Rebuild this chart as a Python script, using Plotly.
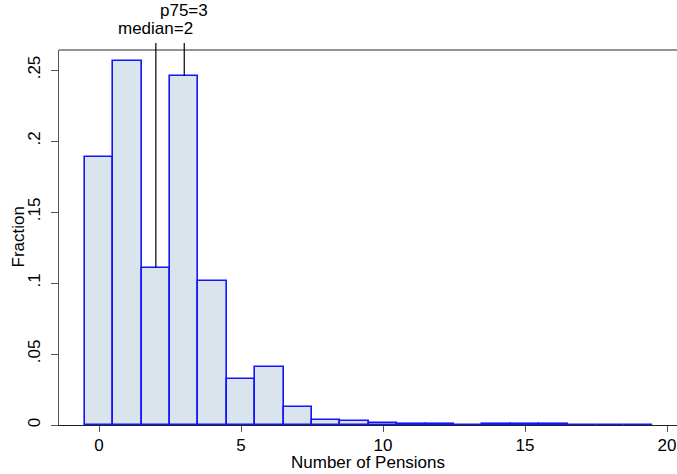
import plotly.graph_objects as go

# Data
pensions = list(range(20))
fraction = [0.1888, 0.2563, 0.1106, 0.2458, 0.1016, 0.0322, 0.0410, 0.0127,
            0.0038, 0.0030, 0.0012, 0.0004, 0.0006, 0.0003, 0.0004, 0.0005,
            0.0004, 0.0, 0.0, 0.0003]
x_ticks = [0, 5, 10, 15, 20]
y_ticks = [0, 0.05, 0.10, 0.15, 0.20, 0.25]
y_ticklabels = ["0", ".05", ".1", ".15", ".2", ".25"]
x_title = "Number of Pensions"
y_title = "Fraction"
median_val = 2
p75_val = 3

YMAX = 0.2641
FONT = "Liberation Sans, Arial, sans-serif"
FS = 17

fig = go.Figure()
fig.add_trace(go.Bar(
    x=pensions, y=fraction, width=1,
    marker=dict(color="#d9e4ec", line=dict(color="#1414ff", width=1.6)),
    showlegend=False,
))

shapes = [
    dict(type="line", xref="paper", yref="paper", x0=0, x1=1, y0=1, y1=1,
         line=dict(color="#707070", width=1.5)),
]
annotations = [
    dict(x=0.5, y=0, xref="paper", yref="paper", text=x_title, showarrow=False,
         xanchor="center", yanchor="middle", yshift=-37, font=dict(size=FS)),
    dict(x=0, y=0.5, xref="paper", yref="paper", text=y_title, showarrow=False,
         textangle=-90, xanchor="center", yanchor="middle", xshift=-41,
         font=dict(size=FS)),
]
for val, label, ytxt in [(median_val, f"median={median_val}", 1.056),
                         (p75_val, f"p75={p75_val}", 1.104)]:
    shapes.append(dict(type="line", xref="x", yref="paper", x0=val, x1=val,
                       y0=fraction[val] / YMAX, y1=1.019,
                       line=dict(color="black", width=1.2)))
    annotations.append(dict(x=val, y=ytxt, xref="x", yref="paper", text=label,
                            showarrow=False, font=dict(size=FS, color="black"),
                            xanchor="center", yanchor="middle"))

fig.update_layout(
    width=677, height=474,
    margin=dict(l=59, r=0, t=50, b=49),
    paper_bgcolor="white", plot_bgcolor="white",
    font=dict(family=FONT, size=FS, color="black"),
    shapes=shapes, annotations=annotations,
    bargap=0,
)
fig.update_xaxes(
    range=[-1.41, 20.35], tickvals=x_ticks, ticks="outside", ticklen=6,
    tickcolor="#555555", showline=True, linecolor="#222222", linewidth=1.2,
    showgrid=False, zeroline=False, layer="below traces", automargin=False,
    ticklabelstandoff=-2, tickfont=dict(size=FS),
)
fig.update_yaxes(
    range=[0, YMAX], tickvals=y_ticks, ticktext=y_ticklabels, tickangle=-90,
    ticks="outside", ticklen=7, tickcolor="#555555", showline=True,
    linecolor="#555555", linewidth=1.2, showgrid=False, zeroline=False,
    layer="below traces", automargin=False, ticklabelstandoff=4,
    tickfont=dict(size=FS),
)

fig.write_html(
    "out.html",
    config={"displayModeBar": False},
    post_script="document.body.style.margin='0';document.body.style.padding='0';"
                "document.body.style.overflow='hidden';",
)
